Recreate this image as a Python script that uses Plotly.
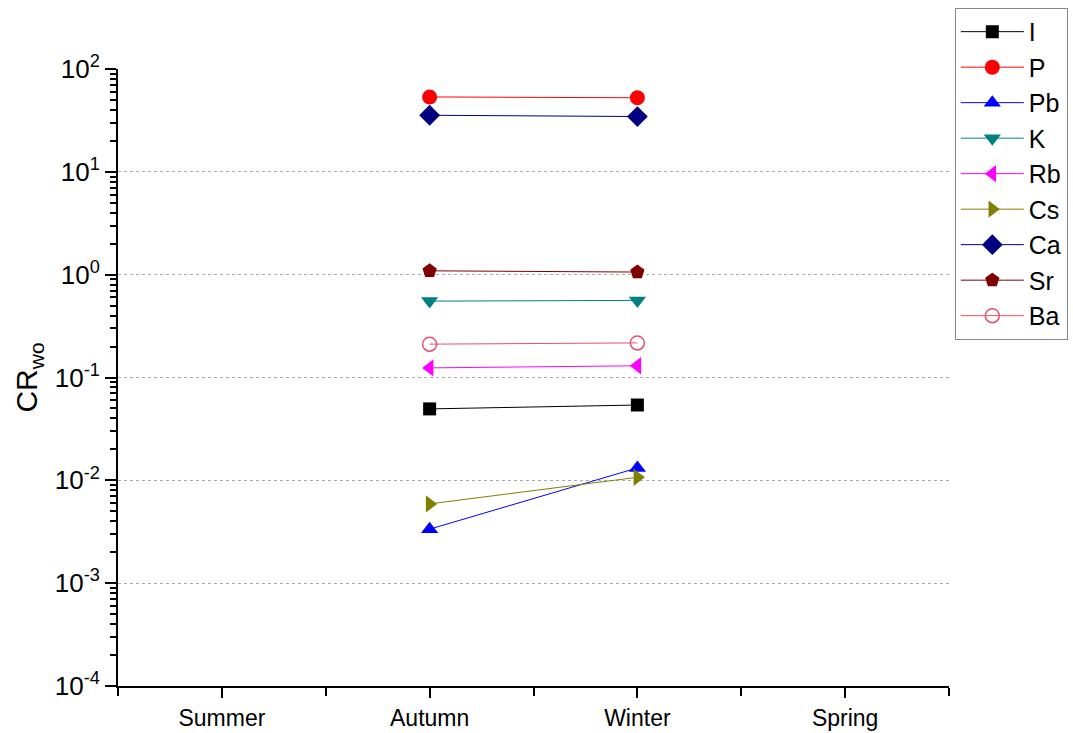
import plotly.graph_objects as go

seasons = ["Summer", "Autumn", "Winter", "Spring"]
plotted_seasons = ["Autumn", "Winter"]

elements = ["I", "P", "Pb", "K", "Rb", "Cs", "Ca", "Sr", "Ba"]
I_vals = [0.0495, 0.0540]
P_vals = [53.5, 52.5]
Pb_vals = [0.00335, 0.0132]
K_vals = [0.553, 0.562]
Rb_vals = [0.124, 0.130]
Cs_vals = [0.0059, 0.0107]
Ca_vals = [35.5, 34.5]
Sr_vals = [1.09, 1.06]
Ba_vals = [0.211, 0.217]

y_tick_vals = [1e-4, 1e-3, 1e-2, 1e-1, 1e0, 1e1, 1e2]
y_tick_text = ["10<sup>-4</sup>", "10<sup>-3</sup>", "10<sup>-2</sup>", "10<sup>-1</sup>",
               "10<sup>0</sup>", "10<sup>1</sup>", "10<sup>2</sup>"]

series_values = [I_vals, P_vals, Pb_vals, K_vals, Rb_vals, Cs_vals, Ca_vals, Sr_vals, Ba_vals]
styles = {
    "I": dict(color="#000000", symbol="square", size=13),
    "P": dict(color="#ff0000", symbol="circle", size=15),
    "Pb": dict(color="#0000ff", symbol="triangle-up", size=15),
    "K": dict(color="#008080", symbol="triangle-down", size=15),
    "Rb": dict(color="#ff00ff", symbol="triangle-left", size=15),
    "Cs": dict(color="#808000", symbol="triangle-right", size=15),
    "Ca": dict(color="#000080", symbol="diamond", size=16),
    "Sr": dict(color="#800000", symbol="pentagon", size=15),
    "Ba": dict(color="#e8506e", symbol="circle-open", size=14),
}

x_pos = [seasons.index(s) + 1 for s in plotted_seasons]

fig = go.Figure()
for name, vals in zip(elements, series_values):
    st = styles[name]
    fig.add_trace(go.Scatter(
        x=x_pos, y=vals, name=name, mode="lines+markers",
        line=dict(color=st["color"], width=1),
        marker=dict(symbol=st["symbol"], size=st["size"], color=st["color"],
                    line=dict(width=1.5 if st["symbol"] == "circle-open" else 0, color=st["color"])),
    ))

font_family = "Liberation Sans, Arial, sans-serif"
fig.update_layout(
    width=1073, height=733,
    margin=dict(l=118, r=124, t=69, b=47, autoexpand=False),
    paper_bgcolor="white", plot_bgcolor="white",
    font=dict(family=font_family, color="black"),
    showlegend=True,
    legend=dict(
        x=1.007, y=1.099, xanchor="left", yanchor="top",
        font=dict(size=25, family=font_family),
        bordercolor="#888888", borderwidth=1, bgcolor="white",
        itemwidth=63, tracegroupgap=0,
    ),
    xaxis=dict(
        range=[0.5, 4.5], automargin=False,
        tickvals=list(range(1, len(seasons) + 1)), ticktext=seasons,
        ticks="outside", ticklen=10, tickwidth=2, tickcolor="black",
        showline=True, linecolor="black", linewidth=2,
        showgrid=False, zeroline=False,
        tickfont=dict(size=23),
        minor=dict(tick0=0.5, dtick=1, ticks="outside", ticklen=8, tickwidth=2, tickcolor="black", showgrid=False),
    ),
    yaxis=dict(
        type="log", range=[-4, 2], automargin=False,
        tickmode="array", tickvals=y_tick_vals, ticktext=y_tick_text,
        ticks="outside", ticklen=11, tickwidth=2, tickcolor="black",
        showline=True, linecolor="black", linewidth=2,
        showgrid=True, gridcolor="#aaaaaa", griddash="dot", gridwidth=1,
        zeroline=False,
        tickfont=dict(size=26),
        minor=dict(tickmode="linear", dtick="D1", ticks="outside", ticklen=6, tickwidth=1.5,
                   tickcolor="black", showgrid=False),
        title=dict(text="CR<sub>wo</sub>", font=dict(size=30), standoff=8),
    ),
)

fig.write_html("out.html", config={"displayModeBar": False},
               post_script="document.body.style.margin='0';document.body.style.padding='0';document.body.style.overflow='hidden';")
